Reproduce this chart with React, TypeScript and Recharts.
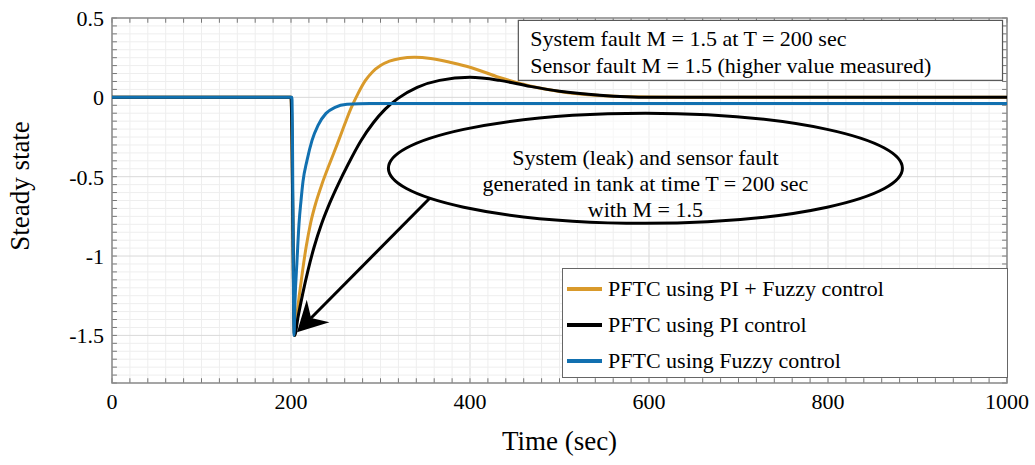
import { LineChart, Line, XAxis, YAxis, ReferenceLine, ReferenceArea, ReferenceDot, Legend } from 'recharts';

const FONT = '"Liberation Serif", "Times New Roman", serif';

const xTicks = [0, 200, 400, 600, 800, 1000];
const yTicks = [0.5, 0, -0.5, -1, -1.5];
const xMinor = Array.from({ length: 51 }, (_, i) => i * 20);
const yMinor = Array.from({ length: 47 }, (_, i) => Math.round((-1.8 + i * 0.05) * 100) / 100);

// PFTC using PI + Fuzzy control
const piFuzzy = [
  { t: 0, v: 0 }, { t: 200, v: 0 }, { t: 204, v: -1.5 }, { t: 206, v: -1.4 },
  { t: 209, v: -1.26 }, { t: 213, v: -1.09 }, { t: 217, v: -0.94 }, { t: 222, v: -0.79 },
  { t: 228, v: -0.66 }, { t: 235, v: -0.54 }, { t: 243, v: -0.42 }, { t: 252, v: -0.29 },
  { t: 260, v: -0.17 }, { t: 267, v: -0.07 }, { t: 275, v: 0.025 }, { t: 283, v: 0.105 },
  { t: 291, v: 0.16 }, { t: 300, v: 0.2 }, { t: 310, v: 0.228 }, { t: 322, v: 0.245 },
  { t: 338, v: 0.252 }, { t: 356, v: 0.245 }, { t: 380, v: 0.218 }, { t: 400, v: 0.19 },
  { t: 433, v: 0.125 }, { t: 467, v: 0.072 }, { t: 500, v: 0.037 }, { t: 545, v: 0.012 },
  { t: 600, v: 0.002 }, { t: 650, v: 0 }, { t: 1000, v: 0 },
];

// PFTC using PI control
const piOnly = [
  { t: 0, v: 0 }, { t: 200, v: 0 }, { t: 204, v: -1.5 }, { t: 208, v: -1.38 },
  { t: 213, v: -1.24 }, { t: 219, v: -1.09 }, { t: 226, v: -0.94 }, { t: 234, v: -0.8 },
  { t: 243, v: -0.67 }, { t: 253, v: -0.545 }, { t: 264, v: -0.42 }, { t: 278, v: -0.275 },
  { t: 292, v: -0.16 }, { t: 305, v: -0.076 }, { t: 320, v: -0.005 }, { t: 341, v: 0.063 },
  { t: 366, v: 0.107 }, { t: 400, v: 0.126 }, { t: 433, v: 0.107 }, { t: 467, v: 0.069 },
  { t: 500, v: 0.038 }, { t: 545, v: 0.013 }, { t: 601, v: 0 }, { t: 1000, v: 0 },
];

// PFTC using Fuzzy control
const fuzzyOnly = [
  { t: 0, v: 0 }, { t: 201, v: 0 }, { t: 203.4, v: -1.5 }, { t: 204.5, v: -1.28 },
  { t: 206.7, v: -1.03 }, { t: 208.9, v: -0.8 }, { t: 211.2, v: -0.65 }, { t: 213.4, v: -0.53 },
  { t: 217.9, v: -0.397 }, { t: 223.5, v: -0.271 }, { t: 230.2, v: -0.176 }, { t: 239.1, v: -0.101 },
  { t: 249.2, v: -0.063 }, { t: 262.6, v: -0.044 }, { t: 288, v: -0.038 }, { t: 1000, v: -0.038 },
];

const series = [
  { key: 'piFuzzy', name: 'PFTC using PI + Fuzzy control', color: '#D99A2B', data: piFuzzy },
  { key: 'piOnly', name: 'PFTC using PI control', color: '#000000', data: piOnly },
  { key: 'fuzzyOnly', name: 'PFTC using Fuzzy control', color: '#1170B0', data: fuzzyOnly },
];

const noteLines = ['System fault M = 1.5 at T = 200 sec', 'Sensor fault M = 1.5 (higher value measured)'];
const ellipseLines = ['System (leak) and sensor fault', 'generated in tank at time T = 200 sec', 'with M = 1.5'];

function NoteBox(props: any) {
  const { x, y, width, height } = props;
  return (
    <g>
      <rect x={x} y={y} width={width} height={height} fill="#fff" stroke="#555" strokeWidth={1.2} />
      {noteLines.map((s, i) => (
        <text key={s} x={x + 12} y={y + 26 + i * 27} fontFamily={FONT} fontSize={22} fill="#000">{s}</text>
      ))}
    </g>
  );
}

function EllipseNote(props: any) {
  const { cx, cy } = props;
  return (
    <g>
      <ellipse cx={cx} cy={cy} rx={257} ry={55} fill="#fff" fillOpacity={0.5} stroke="#000" strokeWidth={3} />
      {ellipseLines.map((s, i) => (
        <text key={s} x={cx} y={cy - 3 + i * 26} textAnchor="middle" fontFamily={FONT} fontSize={22} fill="#000">{s}</text>
      ))}
    </g>
  );
}

function ArrowShape(props: any) {
  const { x1, y1, x2, y2 } = props;
  const len = Math.hypot(x2 - x1, y2 - y1);
  const ux = (x2 - x1) / len;
  const uy = (y2 - y1) / len;
  const bx = x2 - ux * 30;
  const by = y2 - uy * 30;
  const nx = x2 - ux * 20;
  const ny = y2 - uy * 20;
  const pts = [
    [x2, y2], [bx - uy * 16, by + ux * 16], [nx, ny], [bx + uy * 16, by - ux * 16],
  ].map(p => p.join(',')).join(' ');
  return (
    <g>
      <line x1={x1} y1={y1} x2={nx} y2={ny} stroke="#000" strokeWidth={3} />
      <polygon points={pts} fill="#000" />
    </g>
  );
}

function LegendBox() {
  return (
    <div style={{
      border: '1px solid #666', background: '#fff', width: 446, height: 110, boxSizing: 'border-box',
      fontFamily: FONT, fontSize: 22, color: '#000', paddingTop: 2, paddingLeft: 4,
    }}>
      {series.map(s => (
        <div key={s.key} style={{ display: 'flex', alignItems: 'center', height: 36 }}>
          <span style={{ display: 'inline-block', width: 35, height: 4, background: s.color, marginRight: 6 }} />
          <span>{s.name}</span>
        </div>
      ))}
    </div>
  );
}

function YTitle(props: any) {
  const { viewBox } = props;
  const x = viewBox.x + 29;
  const y = 186;
  return (
    <text transform={`translate(${x},${y}) rotate(-90)`} textAnchor="middle" fontFamily={FONT} fontSize={27} fill="#000">
      Steady state
    </text>
  );
}

export default function App() {
  const tickStyle = { fontSize: 22, fontFamily: FONT, fill: '#000' };
  return (
    <div style={{ position: 'absolute', left: 0, top: 0, background: '#fff', fontFamily: FONT }}>
      <LineChart width={1035} height={465} margin={{ top: 18, right: 28, bottom: 12, left: 0 }}>
        <XAxis
          dataKey="t"
          type="number"
          domain={[0, 1000]}
          ticks={xTicks}
          allowDataOverflow
          axisLine={false}
          tickLine={false}
          tickSize={8}
          height={70}
          tick={tickStyle}
          label={{ value: 'Time (sec)', position: 'insideBottom', offset: 3, fontSize: 27, fontFamily: FONT, fill: '#000' }}
        />
        <YAxis
          type="number"
          domain={[-1.8, 0.5]}
          ticks={yTicks}
          allowDataOverflow
          interval={0}
          axisLine={false}
          tickLine={false}
          width={112}
          tick={tickStyle}
          label={{ content: YTitle }}
        />

        {xMinor.map(v => (
          <ReferenceLine key={`gx${v}`} x={v} stroke={v % 200 === 0 ? '#d9d9d9' : '#eeeeee'} strokeWidth={1} zIndex={-100} />
        ))}
        {yMinor.map(v => (
          <ReferenceLine key={`gy${v}`} y={v} stroke={Math.abs(v * 2 - Math.round(v * 2)) < 1e-6 ? '#d9d9d9' : '#eeeeee'} strokeWidth={1} zIndex={-100} />
        ))}

        {xMinor.map(v => (
          <ReferenceLine key={`tb${v}`} segment={[{ x: v, y: -1.8 }, { x: v, y: -1.77 }]} stroke="#777" zIndex={-90} />
        ))}
        {xMinor.map(v => (
          <ReferenceLine key={`tt${v}`} segment={[{ x: v, y: 0.5 }, { x: v, y: 0.47 }]} stroke="#777" zIndex={-90} />
        ))}
        {yMinor.map(v => (
          <ReferenceLine key={`tl${v}`} segment={[{ x: 0, y: v }, { x: 5.5, y: v }]} stroke="#777" zIndex={-90} />
        ))}
        {yMinor.map(v => (
          <ReferenceLine key={`tr${v}`} segment={[{ x: 1000, y: v }, { x: 994.5, y: v }]} stroke="#777" zIndex={-90} />
        ))}
        <ReferenceArea x1={0} x2={1000} y1={-1.8} y2={0.5} fill="none" fillOpacity={0} stroke="#8a8a8a" strokeWidth={1.5} zIndex={-80} />

        {series.map(s => (
          <Line
            key={s.key}
            data={s.data}
            dataKey="v"
            name={s.name}
            type="monotone"
            stroke={s.color}
            strokeWidth={3}
            dot={false}
            activeDot={false}
            isAnimationActive={false}
          />
        ))}

        <ReferenceArea x1={454} x2={995} y1={0.107} y2={0.485} shape={NoteBox} zIndex={700} />
        <ReferenceDot x={596} y={-0.447} r={0} shape={EllipseNote} zIndex={700} />
        <ReferenceLine segment={[{ x: 355, y: -0.636 }, { x: 206.7, y: -1.48 }]} shape={ArrowShape} zIndex={700} />

        <Legend
          layout="vertical"
          align="center"
          verticalAlign="middle"
          content={LegendBox}
          wrapperStyle={{ left: 562, top: 268, width: 446, height: 110 }}
        />
      </LineChart>
    </div>
  );
}
